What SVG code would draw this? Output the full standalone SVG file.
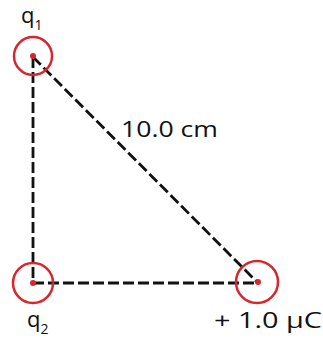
<svg xmlns="http://www.w3.org/2000/svg" width="323" height="338" viewBox="0 0 323 338">
<style>
.ring{fill:none;stroke:#d7262e;stroke-width:2.5}
.dot{fill:#d7262e}
.con{stroke:#111;stroke-width:2.8;stroke-dasharray:11 4;fill:none}
text{font-family:"Open Sans","Liberation Sans",Arial,sans-serif;fill:#111}
</style>
<rect width="323" height="338" fill="#fff"/>
<g id="connectors">
<line class="con" x1="33" y1="57" x2="33" y2="283"/>
<line class="con" x1="33" y1="283" x2="257" y2="283"/>
<line class="con" x1="33" y1="57" x2="257" y2="282"/>
</g>
<g id="q1">
<circle class="ring" cx="33" cy="56" r="19"/>
<circle class="dot" cx="33" cy="56" r="3"/>
<text x="21" y="23" font-size="22">q<tspan font-size="14" dy="7">1</tspan></text>
</g>
<g id="q2">
<circle class="ring" cx="33" cy="283" r="20"/>
<circle class="dot" cx="33" cy="283" r="3"/>
<text x="27" y="327" font-size="22">q<tspan font-size="14" dy="7">2</tspan></text>
</g>
<g id="q3">
<circle class="ring" cx="257" cy="282" r="21"/>
<circle class="dot" cx="258" cy="282" r="3"/>
<text x="214" y="328" font-size="22" textLength="108" lengthAdjust="spacingAndGlyphs">+ 1.0 μC</text>
</g>
<g id="label">
<text x="121" y="137" font-size="22" textLength="97" lengthAdjust="spacingAndGlyphs">10.0 cm</text>
</g>
</svg>
